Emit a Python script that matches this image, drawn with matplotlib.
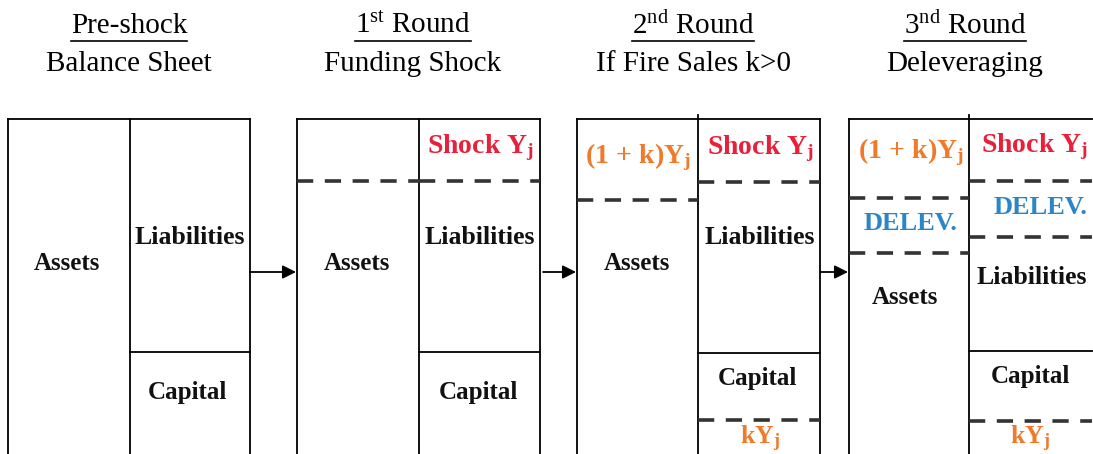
import matplotlib
matplotlib.use("Agg")
import matplotlib.pyplot as plt

plt.rcParams['font.family'] = ['Liberation Serif', 'DejaVu Serif']
plt.rcParams['mathtext.fontset'] = 'custom'
plt.rcParams['mathtext.rm'] = 'Liberation Serif'
plt.rcParams['mathtext.it'] = 'Liberation Serif:italic'
plt.rcParams['mathtext.bf'] = 'Liberation Serif:bold'

# panel geometry (pixels, y down)
panel_left = [8, 297, 577, 849]
panel_mid = [130, 419, 698, 969]
panel_right = [250, 540, 820, 1092]
top_y = 119
capital_y = [352, 352, 353, 351]

# dashed dividers: (panel, column, y)  column 0 = assets side, 1 = liabilities side
dashes = [(1, 0, 181), (1, 1, 181),
          (2, 0, 200), (2, 1, 182), (2, 1, 420),
          (3, 0, 198), (3, 0, 253), (3, 1, 181), (3, 1, 237), (3, 1, 421)]

titles_top = [r"Pre-shock", r"1$^{\mathrm{st}}$ Round", r"2$^{\mathrm{nd}}$ Round", r"3$^{\mathrm{nd}}$ Round"]
titles_sub = ["Balance Sheet", "Funding Shock", "If Fire Sales k>0", "Deleveraging"]
title_x = [129, 413, 693, 965]

RED = "#e8203a"
ORANGE = "#f07a2a"
BLUE = "#2a86c8"
DARK = "#111111"

# labels: (text, x, y, colour, size, vertical anchor)
labels = [
    ("Assets", 67, 263, DARK, 18, 'center'), ("Liabilities", 190, 237, DARK, 18.5, 'center'),
    ("Capital", 187, 392, DARK, 18, 'center'),
    (r"$\mathbf{Shock\ Y_j}$", 480, 148, RED, 20, 'center'), ("Assets", 357, 263, DARK, 18, 'center'),
    ("Liabilities", 480, 237, DARK, 18.5, 'center'), ("Capital", 478, 392, DARK, 18, 'center'),
    (r"$\mathbf{(1\,+\,k)Y_j}$", 638, 157, ORANGE, 20, 'center'),
    (r"$\mathbf{Shock\ Y_j}$", 760, 149, RED, 20, 'center'),
    ("Liabilities", 760, 237, DARK, 18.5, 'center'), ("Assets", 637, 263, DARK, 18, 'center'),
    ("Capital", 757, 379, DARK, 18, 'center'), (r"$\mathbf{kY_j}$", 760, 444, ORANGE, 18.5, 'baseline'),
    (r"$\mathbf{(1\,+\,k)Y_j}$", 911, 152, ORANGE, 20, 'center'),
    (r"$\mathbf{Shock\ Y_j}$", 1034, 147, RED, 20, 'center'),
    ("DELEV.", 911, 224, BLUE, 19, 'center'), ("DELEV.", 1040, 208, BLUE, 19, 'center'),
    ("Assets", 905, 298, DARK, 18, 'center'), ("Liabilities", 1032, 278, DARK, 18.5, 'center'),
    ("Capital", 1030, 377, DARK, 18, 'center'), (r"$\mathbf{kY_j}$", 1030, 444, ORANGE, 18.5, 'baseline'),
]

arrow_y = 272
arrows = [(250, 296), (543, 576), (820, 848)]

fig = plt.figure(figsize=(10.93, 4.54), dpi=100)
ax = fig.add_axes([0, 0, 1, 1])
ax.set_xlim(0, 1093)
ax.set_ylim(454, 0)
ax.axis('off')

for i in range(4):
    l, m, r = panel_left[i], panel_mid[i], panel_right[i]
    ax.plot([l, l], [top_y, 460], color='black', lw=1.3)
    ax.plot([m, m], [top_y - 4 if i >= 2 else top_y, 460], color='black', lw=1.3)
    if i < 3:
        ax.plot([r, r], [top_y, 460], color='black', lw=1.3)
    ax.plot([l, r], [top_y, top_y], color='black', lw=1.3)
    ax.plot([m, r], [capital_y[i], capital_y[i]], color='black', lw=1.3)

for p, col, y in dashes:
    x0 = panel_left[p] if col == 0 else panel_mid[p]
    x1 = panel_mid[p] if col == 0 else panel_right[p]
    ax.plot([x0, x1], [y, y], color='#333333', lw=2.6, dashes=(4.5, 3.2))

for x0, x1 in arrows:
    ax.annotate("", xy=(x1, arrow_y), xytext=(x0, arrow_y),
                arrowprops=dict(arrowstyle='-|>', color='black', lw=1.3,
                                mutation_scale=20, shrinkA=0, shrinkB=0))

for txt, x, y, c, fs, va in labels:
    ax.text(x, y, txt, ha='center', va=va, fontsize=fs, fontweight='bold', color=c)

fig.canvas.draw()
renderer = fig.canvas.get_renderer()
inv = ax.transData.inverted()
for t1, t2, x in zip(titles_top, titles_sub, title_x):
    tt = ax.text(x, 26, t1, ha='center', va='center', fontsize=21, color='black')
    ax.text(x, 64, t2, ha='center', va='center', fontsize=21, color='black')
    bb = tt.get_window_extent(renderer)
    (xa, _), (xb, _) = inv.transform([(bb.x0, 0), (bb.x1, 0)])
    ax.plot([xa, xb], [41, 41], color='black', lw=1.2)

fig.savefig("out.png", dpi=100)
